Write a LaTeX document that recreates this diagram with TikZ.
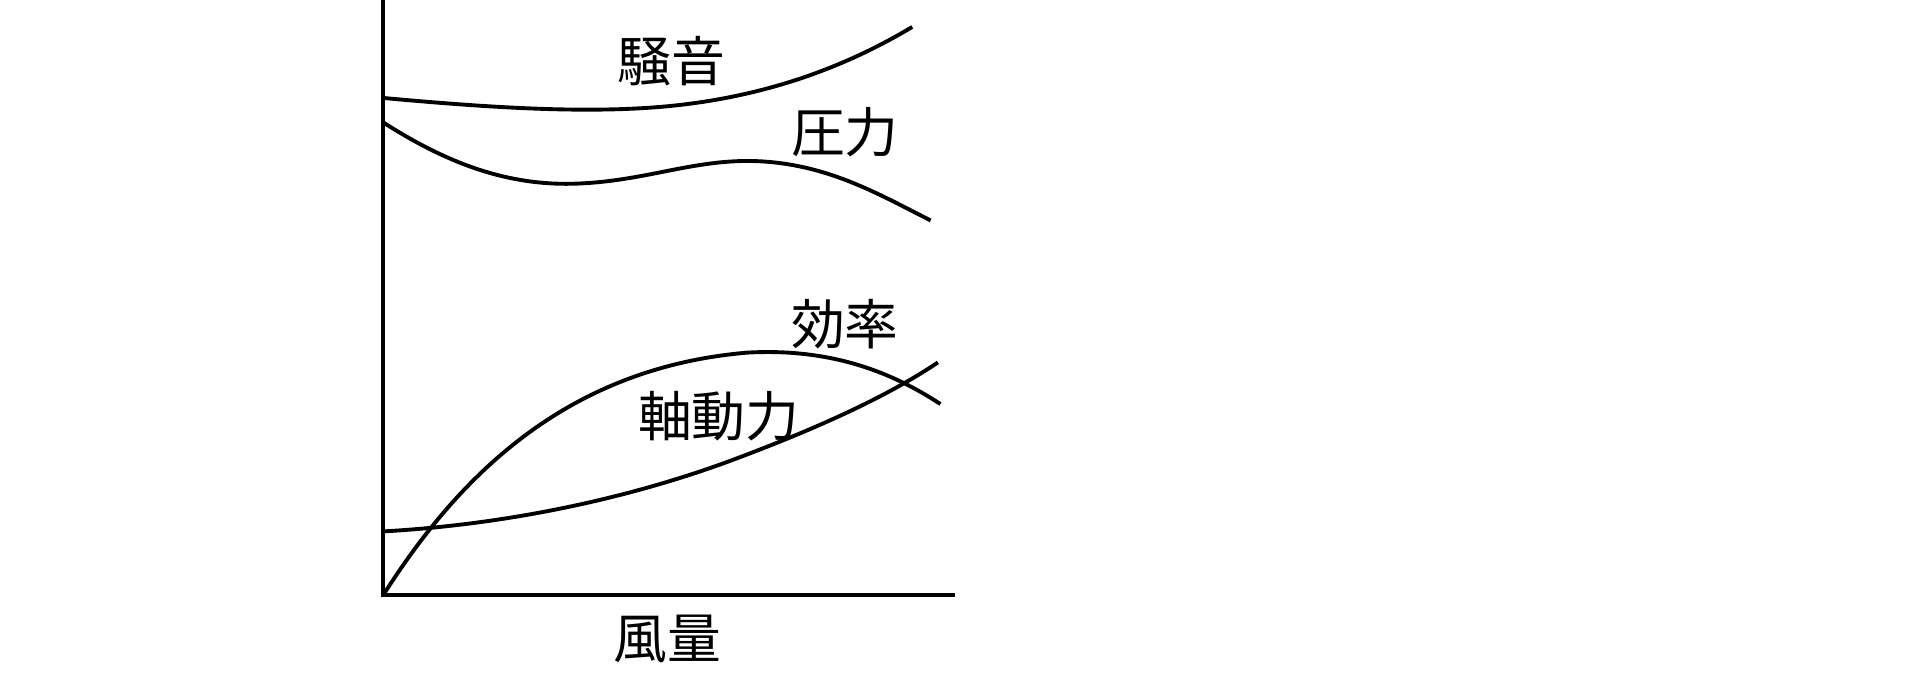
\documentclass[tikz,border=0pt]{standalone}
\usepackage{fontspec}
\newfontfamily\cjk{Noto Sans CJK JP}
\begin{document}
\begin{tikzpicture}[x=0.01cm,y=-0.01cm,curve/.style={line width=0.9pt},lab/.style={font=\cjk\fontsize{12.5}{14}\selectfont,inner sep=0}]
\useasboundingbox (0,0) rectangle (1568,555);
\coordinate (o) at (313,486);
\coordinate (top) at (313,0);
\coordinate (xr) at (780,486);
\draw[line width=0.9pt] (top) -- (o) -- (xr);
% noise
\draw[curve] (313,80) .. controls (400,88) and (470,92) .. (530,88) .. controls (620,82) and (690,55) .. (745,22);
% pressure
\draw[curve] (313,100) .. controls (360,130) and (410,152) .. (470,150) .. controls (530,148) and (570,128) .. (625,132) .. controls (680,136) and (720,160) .. (760,180);
% efficiency
\draw[curve] (313,486) .. controls (380,380) and (470,300) .. (610,288) .. controls (680,284) and (730,305) .. (768,330);
% shaft power
\draw[curve] (313,434) .. controls (420,428) and (520,405) .. (600,375) .. controls (680,345) and (730,320) .. (766,296);
\node[lab] (n1) at (548,50) {騒音};
\node[lab] (n2) at (690,108) {圧力};
\node[lab] (n3) at (690,265) {効率};
\node[lab] (n4) at (587,340) {軸動力};
\node[lab] (n5) at (545,522) {風量};
\end{tikzpicture}
\end{document}
